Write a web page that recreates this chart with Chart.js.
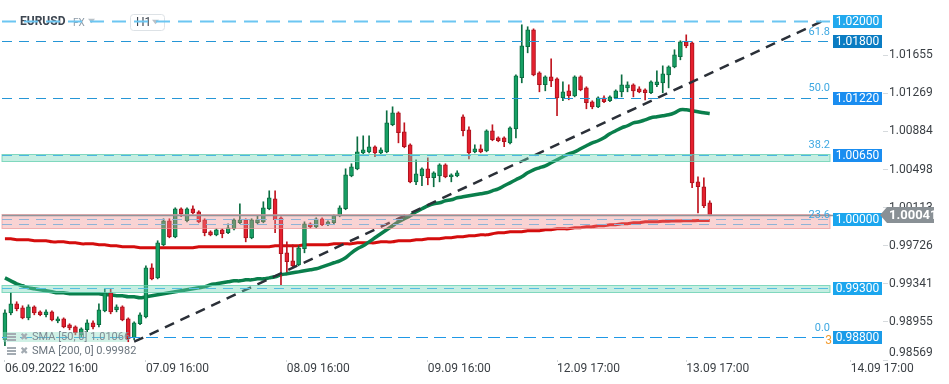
<!DOCTYPE html>
<html>
<head>
<meta charset="utf-8">
<title>EURUSD H1</title>
<script src="https://cdn.jsdelivr.net/npm/chart.js@4.4.0/dist/chart.umd.min.js"></script>
<style>
  html, body { margin: 0; padding: 0; background: #fff; }
  canvas { display: block; }
</style>
</head>
<body>
<canvas id="chart" width="949" height="384"></canvas>
<script>
// EURUSD H1 candles, 06.09.2022 16:00 -> 13.09.2022
const openP = [
  0.98774, 0.99047, 0.99138, 0.99098, 0.98996, 0.99108, 0.99057, 0.99027, 0.99057, 0.98966,
  0.98986, 0.98926, 0.98905, 0.98824, 0.98875, 0.98946, 0.98926, 0.99067, 0.99250, 0.99078,
  0.99108, 0.98986, 0.98794, 0.98936, 0.99006, 0.99503, 0.99401, 0.99736, 0.99980, 0.99817,
  1.00101, 0.99980, 1.00101, 1.00070, 0.99990, 0.99868, 0.99837, 0.99888, 0.99858, 0.99898,
  0.99959, 0.99990, 0.99807, 0.99959, 0.99969, 1.00101, 1.00202, 1.00010, 0.99655, 0.99574,
  0.99533, 0.99696, 0.99949, 0.99918, 1.00000, 0.99939, 0.99959, 1.00030, 1.00101, 1.00435,
  1.00506, 1.00668, 1.00678, 1.00729, 1.00668, 1.00678, 1.00952, 1.01073, 1.00881, 1.00749,
  1.00374, 1.00435, 1.00506, 1.00415, 1.00435, 1.00546, 1.00425, 1.00435, 1.01033, 1.00901,
  1.00678, 1.00709, 1.00688, 1.00891, 1.00820, 1.00820, 1.00769, 1.00911, 1.01428, 1.01742,
  1.01914, 1.01479, 1.01357, 1.01438, 1.01418, 1.01225, 1.01296, 1.01245, 1.01438, 1.01326,
  1.01185, 1.01134, 1.01225, 1.01195, 1.01225, 1.01286, 1.01326, 1.01357, 1.01316, 1.01306,
  1.01276, 1.01357, 1.01377, 1.01458, 1.01539, 1.01641, 1.01793, 1.01782, 1.00374, 1.00324,
  1.00162
];
const highP = [
  0.99078, 0.99250, 0.99159, 0.99118, 0.99128, 0.99118, 0.99067, 0.99078, 0.99067, 0.99006,
  0.98996, 0.98936, 0.98915, 0.98895, 0.98976, 0.98966, 0.99138, 0.99290, 0.99290, 0.99128,
  0.99118, 0.98996, 0.98956, 0.99047, 0.99523, 0.99544, 0.99777, 1.00000, 1.00000, 1.00111,
  1.00111, 1.00111, 1.00131, 1.00081, 1.00000, 0.99878, 0.99898, 0.99898, 0.99949, 1.00000,
  1.00152, 1.00000, 1.00000, 1.00030, 1.00172, 1.00283, 1.00283, 1.00020, 0.99766, 0.99736,
  0.99726, 0.99969, 0.99959, 1.00010, 1.00010, 0.99980, 1.00040, 1.00131, 1.00506, 1.00557,
  1.00830, 1.00840, 1.00840, 1.00739, 1.00719, 1.01094, 1.01134, 1.01083, 1.00972, 1.00759,
  1.00597, 1.00516, 1.00617, 1.00476, 1.00557, 1.00557, 1.00455, 1.00486, 1.01053, 1.00931,
  1.00749, 1.00749, 1.00901, 1.00952, 1.00830, 1.00830, 1.00931, 1.01458, 1.01965, 1.01945,
  1.01924, 1.01489, 1.01448, 1.01620, 1.01428, 1.01387, 1.01357, 1.01448, 1.01448, 1.01337,
  1.01195, 1.01235, 1.01245, 1.01245, 1.01306, 1.01458, 1.01387, 1.01367, 1.01337, 1.01316,
  1.01397, 1.01499, 1.01549, 1.01549, 1.01712, 1.01803, 1.01863, 1.01793, 1.00425, 1.00415,
  1.00182
];
const lowP = [
  0.98713, 0.99027, 0.99067, 0.98986, 0.98976, 0.99027, 0.99017, 0.99006, 0.98966, 0.98946,
  0.98895, 0.98875, 0.98824, 0.98804, 0.98855, 0.98885, 0.98905, 0.99057, 0.99037, 0.99057,
  0.98966, 0.98754, 0.98774, 0.98926, 0.98996, 0.99381, 0.99391, 0.99726, 0.99807, 0.99807,
  1.00020, 0.99969, 1.00050, 0.99959, 0.99827, 0.99827, 0.99827, 0.99807, 0.99848, 0.99888,
  0.99949, 0.99766, 0.99797, 0.99949, 0.99959, 1.00091, 0.99858, 0.99331, 0.99462, 0.99503,
  0.99523, 0.99655, 0.99908, 0.99908, 0.99929, 0.99929, 0.99949, 1.00020, 1.00091, 1.00425,
  1.00496, 1.00658, 1.00668, 1.00628, 1.00658, 1.00668, 1.00942, 1.00769, 1.00719, 1.00364,
  1.00344, 1.00334, 1.00344, 1.00324, 1.00374, 1.00415, 1.00374, 1.00425, 1.00840, 1.00607,
  1.00668, 1.00668, 1.00678, 1.00790, 1.00780, 1.00729, 1.00759, 1.00820, 1.01377, 1.01681,
  1.01448, 1.01286, 1.01296, 1.01337, 1.01043, 1.01195, 1.01205, 1.01235, 1.01296, 1.01114,
  1.01114, 1.01124, 1.01175, 1.01185, 1.01215, 1.01235, 1.01286, 1.01235, 1.01276, 1.01205,
  1.01266, 1.01337, 1.01276, 1.01326, 1.01529, 1.01610, 1.01732, 1.00314, 1.00060, 1.00111,
  1.00030
];
const closeP = [
  0.99047, 0.99138, 0.99088, 0.98996, 0.99108, 0.99047, 0.99027, 0.99057, 0.98976, 0.98986,
  0.98905, 0.98895, 0.98845, 0.98885, 0.98946, 0.98905, 0.99078, 0.99250, 0.99057, 0.99108,
  0.98976, 0.98784, 0.98946, 0.99027, 0.99503, 0.99391, 0.99756, 0.99980, 0.99817, 1.00101,
  1.00050, 1.00101, 1.00060, 0.99969, 0.99858, 0.99837, 0.99888, 0.99848, 0.99908, 0.99990,
  0.99990, 0.99807, 0.99990, 0.99990, 1.00111, 1.00212, 0.99990, 0.99645, 0.99564, 0.99523,
  0.99706, 0.99949, 0.99918, 1.00000, 0.99939, 0.99969, 1.00030, 1.00111, 1.00445, 1.00526,
  1.00678, 1.00698, 1.00729, 1.00668, 1.00698, 1.00972, 1.01073, 1.00871, 1.00729, 1.00374,
  1.00455, 1.00506, 1.00415, 1.00465, 1.00546, 1.00425, 1.00445, 1.00465, 1.00891, 1.00668,
  1.00709, 1.00678, 1.00891, 1.00800, 1.00790, 1.00780, 1.00921, 1.01448, 1.01752, 1.01914,
  1.01458, 1.01357, 1.01438, 1.01397, 1.01225, 1.01286, 1.01245, 1.01438, 1.01306, 1.01175,
  1.01134, 1.01225, 1.01185, 1.01235, 1.01296, 1.01357, 1.01357, 1.01296, 1.01286, 1.01276,
  1.01387, 1.01387, 1.01468, 1.01539, 1.01661, 1.01793, 1.01752, 1.00364, 1.00324, 1.00131,
  1.00041
];
const sma50 = [
  0.99401, 0.99371, 0.99341, 0.99321, 0.99300, 0.99290, 0.99280, 0.99270, 0.99260, 0.99250,
  0.99250, 0.99240, 0.99240, 0.99240, 0.99240, 0.99240, 0.99240, 0.99230, 0.99230, 0.99220,
  0.99220, 0.99209, 0.99209, 0.99199, 0.99209, 0.99220, 0.99230, 0.99240, 0.99250, 0.99260,
  0.99270, 0.99280, 0.99290, 0.99300, 0.99310, 0.99331, 0.99341, 0.99351, 0.99361, 0.99371,
  0.99371, 0.99381, 0.99381, 0.99391, 0.99391, 0.99401, 0.99412, 0.99432, 0.99442, 0.99452,
  0.99462, 0.99473, 0.99483, 0.99493, 0.99513, 0.99533, 0.99554, 0.99574, 0.99605, 0.99655,
  0.99696, 0.99726, 0.99766, 0.99807, 0.99848, 0.99888, 0.99929, 0.99969, 1.00000, 1.00030,
  1.00070, 1.00101, 1.00131, 1.00152, 1.00162, 1.00182, 1.00192, 1.00212, 1.00222, 1.00233,
  1.00243, 1.00253, 1.00263, 1.00283, 1.00303, 1.00334, 1.00364, 1.00395, 1.00425, 1.00465,
  1.00496, 1.00516, 1.00536, 1.00567, 1.00597, 1.00628, 1.00658, 1.00678, 1.00709, 1.00739,
  1.00769, 1.00790, 1.00820, 1.00861, 1.00891, 1.00921, 1.00942, 1.00972, 1.00982, 1.01002,
  1.01023, 1.01033, 1.01043, 1.01053, 1.01073, 1.01104, 1.01104, 1.01094, 1.01083, 1.01073,
  1.01066
];
const sma200 = [
  0.99797, 0.99797, 0.99787, 0.99787, 0.99787, 0.99777, 0.99777, 0.99777, 0.99766, 0.99766,
  0.99766, 0.99756, 0.99756, 0.99746, 0.99746, 0.99746, 0.99736, 0.99736, 0.99726, 0.99726,
  0.99716, 0.99716, 0.99716, 0.99706, 0.99706, 0.99706, 0.99706, 0.99706, 0.99706, 0.99706,
  0.99706, 0.99706, 0.99706, 0.99716, 0.99716, 0.99716, 0.99716, 0.99716, 0.99716, 0.99716,
  0.99716, 0.99716, 0.99716, 0.99716, 0.99716, 0.99716, 0.99726, 0.99726, 0.99726, 0.99726,
  0.99726, 0.99736, 0.99736, 0.99736, 0.99736, 0.99736, 0.99746, 0.99746, 0.99746, 0.99746,
  0.99756, 0.99756, 0.99756, 0.99756, 0.99766, 0.99766, 0.99766, 0.99777, 0.99777, 0.99777,
  0.99787, 0.99787, 0.99797, 0.99797, 0.99797, 0.99807, 0.99807, 0.99817, 0.99817, 0.99827,
  0.99827, 0.99837, 0.99837, 0.99848, 0.99858, 0.99858, 0.99868, 0.99868, 0.99868, 0.99878,
  0.99878, 0.99878, 0.99888, 0.99888, 0.99898, 0.99898, 0.99898, 0.99908, 0.99908, 0.99918,
  0.99918, 0.99929, 0.99929, 0.99939, 0.99939, 0.99949, 0.99949, 0.99959, 0.99959, 0.99969,
  0.99969, 0.99969, 0.99975, 0.99975, 0.99978, 0.99978, 0.99980, 0.99980, 0.99981, 0.99982,
  0.99982
];

// time axis: 150 hourly slots, labels only on a few of them
const slotCount = 150;
const tickSlots = [0, 24, 48, 72, 94, 116, 144];
const tickTexts = ['06.09.2022 16:00', '07.09 16:00', '08.09 16:00', '09.09 16:00', '12.09 17:00', '13.09 17:00', '14.09 17:00'];

// price axis
const yTicks = [1.01655, 1.01269, 1.00884, 1.00498, 1.00113, 0.99726, 0.99341, 0.98955, 0.98569];
const yMin = 0.98569, yMax = 1.02216;
const lastPrice = 1.00041;

// horizontal levels with price tags
const levels = [1.02, 1.018, 1.0122, 1.0065, 1.0, 0.993, 0.988];
// fibonacci retracement
const fibLevels = [1.018, 1.01227, 1.00654, 0.99946, 0.988];
const fibNames = ['61.8', '50.0', '38.2', '23.6', '0.0'];
// shaded zones
const zoneTop = [1.00658, 1.00051, 0.99332];
const zoneBottom = [1.00587, 0.99909, 0.99261];
// trend line (slot, price)
const trendFrom = [22, 0.98754];
const trendTo = [140, 1.02025];

const slotLabels = Array.from({ length: slotCount }, () => '');
tickSlots.forEach((s, i) => { slotLabels[s] = tickTexts[i]; });

const bodies = openP.map((o, i) => [o, closeP[i]]);
const wicks = lowP.map((l, i) => [l, highP[i]]);
const isUp = i => closeP[i] >= openP[i];

const trend = Array.from({ length: slotCount }, () => null);
trend[trendFrom[0]] = trendFrom[1];
trend[trendTo[0]] = trendTo[1];

const levelStyle = [
  { color: '#6cc6f2', width: 2, dash: [14, 8] },
  { color: '#2596d6', width: 1.2, dash: [10, 7] },
  { color: '#2596d6', width: 1.2, dash: [10, 7] },
  { color: '#4cb6e2', width: 1, dash: [10, 7] },
  { color: '#8fb3d6', width: 1, dash: [10, 7] },
  { color: '#55bde2', width: 1, dash: [10, 7] },
  { color: '#1f98e6', width: 1.2, dash: [12, 6] }
];
const tagColors = ['#22a9ee', '#0a7cc2', '#1a8df0', '#1a8df0', '#1ba6ee', '#1ba6ee', '#1a9be8'];
const zoneFill = ['rgba(110, 212, 182, 0.40)', 'rgba(240, 140, 140, 0.38)', 'rgba(110, 212, 182, 0.40)'];
const zoneEdge = ['rgba(95, 205, 172, 0.75)', 'rgba(235, 150, 150, 0.7)', 'rgba(95, 205, 172, 0.75)'];

Chart.defaults.font.family = 'Roboto, "Noto Sans", sans-serif';

function triangle(ctx, x, y, w, color) {
  ctx.fillStyle = color;
  ctx.beginPath();
  ctx.moveTo(x, y - w / 3);
  ctx.lineTo(x + w, y - w / 3);
  ctx.lineTo(x + w / 2, y + w / 3);
  ctx.closePath();
  ctx.fill();
}

const overlay = {
  id: 'overlay',
  afterDatasetsDraw(chart) {
    const { ctx, chartArea: a, scales: { y } } = chart;
    const lineEnd = a.right - 53;
    ctx.save();

    // zones
    zoneTop.forEach((top, i) => {
      const y1 = Math.round(y.getPixelForValue(top)) + 0.5;
      const y2 = Math.round(y.getPixelForValue(zoneBottom[i])) + 0.5;
      ctx.fillStyle = zoneFill[i];
      ctx.fillRect(a.left, y1, lineEnd - a.left, y2 - y1);
      ctx.strokeStyle = zoneEdge[i];
      ctx.lineWidth = 1;
      ctx.strokeRect(a.left, y1, lineEnd - a.left, y2 - y1);
    });

    // legend top-left
    ctx.textBaseline = 'middle';
    ctx.font = 'bold 12px Roboto';
    ctx.fillStyle = '#3d4651';
    ctx.fillText('EURUSD', 20, 22);
    ctx.font = '10px Roboto';
    ctx.fillStyle = '#8d9ba7';
    ctx.fillText('FX', 73, 23);
    triangle(ctx, 88, 21, 7, '#b9c1c8');
    ctx.fillStyle = '#fff';
    ctx.strokeStyle = '#dde2e6';
    ctx.lineWidth = 1;
    ctx.beginPath();
    ctx.roundRect(130.5, 14.5, 34, 16, 3);
    ctx.fill();
    ctx.stroke();
    ctx.font = '12px Roboto';
    ctx.fillStyle = '#3d4651';
    ctx.fillText('H1', 136, 23);
    triangle(ctx, 152, 22, 7, '#b9c1c8');

    // fib line that has no level of its own
    fibLevels.forEach(f => {
      if (levels.some(l => Math.abs(l - f) < 0.0001)) return;
      const py = Math.round(y.getPixelForValue(f)) + 0.5;
      ctx.strokeStyle = '#8fb3d6';
      ctx.lineWidth = 1;
      ctx.setLineDash([10, 7]);
      ctx.beginPath();
      ctx.moveTo(a.left, py);
      ctx.lineTo(lineEnd, py);
      ctx.stroke();
    });

    // levels
    levels.forEach((lv, i) => {
      const st = levelStyle[i];
      const py = Math.round(y.getPixelForValue(lv)) + 0.5;
      ctx.strokeStyle = st.color;
      ctx.lineWidth = st.width;
      ctx.setLineDash(st.dash);
      ctx.beginPath();
      ctx.moveTo(a.left, py);
      ctx.lineTo(lineEnd, py);
      ctx.stroke();
    });
    ctx.setLineDash([]);

    // last price line
    const lp = Math.round(y.getPixelForValue(lastPrice)) + 0.5;
    ctx.strokeStyle = '#8e959b';
    ctx.lineWidth = 1.5;
    ctx.beginPath();
    ctx.moveTo(a.left, lp);
    ctx.lineTo(a.right, lp);
    ctx.stroke();

    // fib labels
    ctx.font = '11px Roboto';
    ctx.fillStyle = '#3ea8e2';
    ctx.textAlign = 'right';
    fibLevels.forEach((f, i) => {
      ctx.fillText(fibNames[i], lineEnd, y.getPixelForValue(f) - 9);
    });
    ctx.fillStyle = '#f39b2e';
    ctx.font = '12px Roboto';
    ctx.fillText('3', lineEnd + 2, y.getPixelForValue(0.988) + 4);
    ctx.textAlign = 'left';

    // indicator legend bottom-left
    const rows = [
      ['SMA [50, 0] ' + sma50[sma50.length - 1].toFixed(5), a.bottom - 23, '#7f8b94'],
      ['SMA [200, 0] ' + sma200[sma200.length - 1].toFixed(5), a.bottom - 9, '#6b757e']
    ];
    ctx.fillStyle = 'rgba(150, 225, 200, 0.45)';
    ctx.fillRect(a.left + 1, a.bottom - 28, 124, 10);
    rows.forEach(([txt, ry, col]) => {
      ctx.fillStyle = '#a3abb2';
      ctx.fillRect(7, ry - 4, 9, 2);
      ctx.fillRect(7, ry - 1, 9, 2);
      ctx.fillRect(7, ry + 2, 9, 2);
      ctx.font = '10px "DejaVu Sans"';
      ctx.fillText('\u2716', 20, ry);
      ctx.font = '11px Roboto';
      ctx.fillStyle = col;
      ctx.fillText(txt, 32, ry);
    });
    ctx.restore();
  },
  afterDraw(chart) {
    const { ctx, chartArea: a, scales: { y } } = chart;
    ctx.save();
    ctx.textBaseline = 'middle';
    ctx.textAlign = 'center';
    ctx.font = '12px Roboto';
    levels.forEach((lv, i) => {
      const py = Math.round(y.getPixelForValue(lv));
      ctx.fillStyle = tagColors[i];
      ctx.fillRect(a.right - 50, py - 6, 49, 13);
      ctx.fillStyle = '#fff';
      ctx.fillText(lv.toFixed(5), a.right - 25.5, py + 0.5);
    });

    // lowest price tick sits clamped above the time labels
    const bottomTick = yTicks[yTicks.length - 1];
    ctx.textAlign = 'left';
    ctx.fillStyle = '#3a3f44';
    ctx.fillText(bottomTick.toFixed(5), a.right + 6, a.bottom - 7);

    // last price tag
    const lp = Math.round(y.getPixelForValue(lastPrice));
    ctx.fillStyle = '#899095';
    ctx.beginPath();
    ctx.moveTo(a.right - 3, lp);
    ctx.lineTo(a.right + 4, lp - 8);
    ctx.lineTo(a.right + 51, lp - 8);
    ctx.lineTo(a.right + 51, lp + 8);
    ctx.lineTo(a.right + 4, lp + 8);
    ctx.closePath();
    ctx.fill();
    ctx.fillStyle = '#fff';
    ctx.font = 'bold 13px Roboto';
    ctx.fillText(lastPrice.toFixed(5), a.right + 6, lp + 0.5);
    ctx.restore();
  }
};

new Chart(document.getElementById('chart'), {
  type: 'bar',
  data: {
    labels: slotLabels,
    datasets: [
      {
        label: 'trend',
        type: 'line',
        data: trend,
        order: 0,
        spanGaps: true,
        borderColor: '#2b3038',
        borderWidth: 2.5,
        borderDash: [10, 7],
        pointRadius: 0
      },
      {
        label: 'body',
        data: bodies,
        order: 1,
        grouped: false,
        barThickness: 4,
        borderWidth: 1,
        borderSkipped: false,
        backgroundColor: c => isUp(c.dataIndex) ? '#16a064' : '#e5202e',
        borderColor: c => isUp(c.dataIndex) ? '#0b6d41' : '#a9131e'
      },
      {
        label: 'wick',
        data: wicks,
        order: 2,
        grouped: false,
        barThickness: 1,
        borderWidth: 0,
        backgroundColor: c => isUp(c.dataIndex) ? '#0b6d41' : '#c0151f'
      },
      {
        label: 'SMA 50',
        type: 'line',
        data: sma50,
        order: 3,
        borderColor: '#0a7f4c',
        borderWidth: 3.5,
        pointRadius: 0,
        tension: 0.35
      },
      {
        label: 'SMA 200',
        type: 'line',
        data: sma200,
        order: 4,
        borderColor: '#d40d0d',
        borderWidth: 3,
        pointRadius: 0,
        tension: 0.35
      }
    ]
  },
  options: {
    responsive: false,
    devicePixelRatio: 1,
    animation: false,
    layout: { padding: { left: 2, top: 0, right: 0, bottom: 0 } },
    plugins: { legend: { display: false }, tooltip: { enabled: false } },
    scales: {
      x: {
        afterFit: s => { s.height = 24; s.paddingLeft = 0; s.paddingRight = 0; },
        border: { display: false },
        grid: {
          drawOnChartArea: false,
          offset: false,
          tickLength: 2,
          color: c => slotLabels[c.index] ? '#cfd4d8' : 'rgba(0,0,0,0)'
        },
        ticks: {
          autoSkip: false,
          maxRotation: 0,
          align: 'start',
          padding: 0,
          color: '#3a3f44',
          font: { size: 12 },
          callback: (v, i) => slotLabels[i]
        }
      },
      y: {
        position: 'right',
        min: yMin,
        max: yMax,
        afterBuildTicks: s => { s.ticks = yTicks.map(v => ({ value: v })); },
        afterFit: s => { s.width = 66; s.paddingTop = 0; s.paddingBottom = 0; },
        border: { display: false },
        grid: { drawOnChartArea: false, tickLength: 5, color: '#d6dadd' },
        ticks: {
          padding: 1,
          color: '#3a3f44',
          font: { size: 12 },
          callback: v => v === yTicks[yTicks.length - 1] ? '' : v.toFixed(5)
        }
      }
    }
  },
  plugins: [overlay]
});
</script>
</body>
</html>
